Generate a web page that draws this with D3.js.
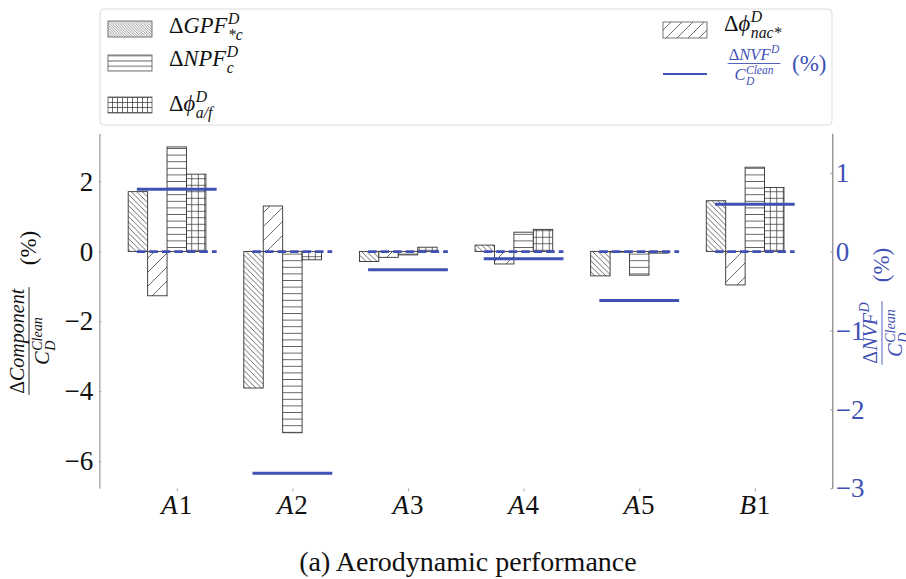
<!DOCTYPE html>
<html>
<head>
<meta charset="utf-8">
<script src="https://cdn.jsdelivr.net/npm/d3@7"></script>
<style>
  html, body { margin: 0; padding: 0; background: #fff; }
  svg { display: block; }
  text { font-family: "Liberation Serif", "DejaVu Serif", serif; }
</style>
</head>
<body>
<svg id="chart" width="906" height="579"></svg>
<script>
// Configurations on the x axis
const categories = ['A1', 'A2', 'A3', 'A4', 'A5', 'B1'];

// Component changes, % of clean drag (left axis)
const gpf   = [1.71, -3.91, -0.29, 0.18, -0.70, 1.45];   // ΔGPF*c
const nac   = [-1.27, 1.30, -0.17, -0.36, -0.02, -0.96]; // Δφ nac*
const npf   = [2.99, -5.19, -0.10, 0.55, -0.68, 2.41];   // ΔNPF c
const phiAF = [2.21, -0.24, 0.12, 0.63, -0.05, 1.83];    // Δφ a/f

// Net vehicle force change, % of clean drag (right axis)
const nvf = [0.79, -2.81, -0.23, -0.09, -0.62, 0.60];

// Axis ticks and limits
const leftTicks = [-6, -4, -2, 0, 2];
const rightTicks = [-3, -2, -1, 0, 1];
const leftDomain = [-6.78, 3.38];
const rightDomain = [-3, 1.5];

const BLUE = '#3f51b5';
const INK = '#333';
const svg = d3.select('#chart');

const plot = { left: 99.3, right: 832.3, top: 133.3, bottom: 488.3 };

const x = d3.scalePoint().domain(categories).range([plot.left, plot.right]).padding(0.67);
const step = x.step();
const bw = step * 0.168;
const lineHalf = step * 0.345;

const yL = d3.scaleLinear().domain(leftDomain).range([plot.bottom, plot.top]);
const yR = d3.scaleLinear().domain(rightDomain).range([plot.bottom, plot.top]);

// ---------- hatch patterns ----------
const defs = svg.append('defs');
function pattern(id, s, d, sw, col) {
  const p = defs.append('pattern').attr('id', id)
    .attr('patternUnits', 'userSpaceOnUse').attr('width', s).attr('height', s);
  p.append('rect').attr('width', s).attr('height', s).attr('fill', '#fff');
  p.append('path').attr('d', d).attr('stroke', col || '#3a3a3a')
    .attr('stroke-width', sw).attr('fill', 'none');
}
function bslash(s) { return `M-1,-1L${s+1},${s+1}M${s-1},-1L${s+1},1M-1,${s-1}L1,${s+1}`; }
function fslash(s) { return `M-1,${s+1}L${s+1},-1M-1,1L1,-1M${s-1},${s+1}L${s+1},${s-1}`; }
function hline(s) { return `M0,${s/2}H${s}`; }
function grid(s) { return `M0,${s/2}H${s}M${s/2},0V${s}`; }

pattern('p-gpf', 5.5, bslash(5.5), 0.75);
pattern('p-nac', 14, fslash(14), 0.75);
pattern('p-npf', 6.6, hline(6.6), 0.75);
pattern('p-phi', 6.5, grid(6.5), 0.75);
pattern('l-gpf', 2.6, bslash(2.6), 0.6, '#555');
pattern('l-nac', 11, fslash(11), 0.75);
pattern('l-npf', 5.3, hline(5.3), 0.75);
pattern('l-phi', 5, grid(5), 0.75);

// ---------- math-like text helper ----------
function mathText(parent, px, py, items, size, color, anchor, supRaise) {
  const g = parent.append('g').attr('fill', color);
  const raise = supRaise == null ? 0.42 : supRaise;
  let cx = 0;
  items.forEach(it => {
    if (it.t) {
      const t = g.append('text').attr('x', cx).attr('y', 0)
        .style('font-size', size + 'px')
        .style('font-style', it.i ? 'italic' : 'normal').text(it.t);
      cx += t.node().getComputedTextLength() + (it.i ? size * 0.03 : 0);
    }
    let w = 0;
    const ss = size * 0.7;
    if (it.sup) {
      const s = g.append('text').attr('x', cx).attr('y', -size * raise)
        .style('font-size', ss + 'px').style('font-style', 'italic').text(it.sup);
      w = Math.max(w, s.node().getComputedTextLength());
    }
    if (it.sub) {
      const s = g.append('text').attr('x', cx).attr('y', size * 0.3)
        .style('font-size', ss + 'px').style('font-style', 'italic').text(it.sub);
      w = Math.max(w, s.node().getComputedTextLength());
    }
    cx += w;
  });
  const dx = anchor === 'middle' ? cx / 2 : anchor === 'end' ? cx : 0;
  g.attr('transform', `translate(${px - dx},${py})`);
  return { g, width: cx };
}

function fraction(parent, cx, ly, num, den, size, color) {
  const g = parent.append('g');
  const n = mathText(g, cx, ly - size * 0.24, num, size, color, 'middle');
  const d = mathText(g, cx, ly + size * 0.98, den, size, color, 'middle', 0.34);
  const w = Math.max(n.width, d.width) + 2;
  g.append('line').attr('x1', cx - w / 2).attr('x2', cx + w / 2)
    .attr('y1', ly).attr('y2', ly).attr('stroke', color).attr('stroke-width', 0.9);
  return w;
}

// ---------- bars ----------
const series = [
  { key: 'gpf', values: gpf, fill: 'url(#p-gpf)' },
  { key: 'nac', values: nac, fill: 'url(#p-nac)' },
  { key: 'npf', values: npf, fill: 'url(#p-npf)' },
  { key: 'phi', values: phiAF, fill: 'url(#p-phi)' }
];

const barLayer = svg.append('g');
series.forEach((s, k) => {
  barLayer.selectAll(null)
    .data(s.values.map((v, i) => ({ c: categories[i], v })))
    .join('rect')
    .attr('x', d => x(d.c) + (k - 2.5) * bw)
    .attr('width', bw)
    .attr('y', d => yL(Math.max(d.v, 0)))
    .attr('height', d => Math.abs(yL(d.v) - yL(0)))
    .attr('fill', s.fill)
    .attr('stroke', INK).attr('stroke-width', 0.9);
});

// ---------- right-axis lines ----------
const lineLayer = svg.append('g');
lineLayer.selectAll(null).data(categories).join('line')
  .attr('x1', c => x(c) - lineHalf).attr('x2', c => x(c) + lineHalf)
  .attr('y1', yR(0)).attr('y2', yR(0))
  .attr('stroke', BLUE).attr('stroke-width', 2.6)
  .attr('stroke-dasharray', '8.5,4');
lineLayer.selectAll(null).data(nvf.map((v, i) => ({ c: categories[i], v }))).join('line')
  .attr('x1', d => x(d.c) - lineHalf).attr('x2', d => x(d.c) + lineHalf)
  .attr('y1', d => yR(d.v)).attr('y2', d => yR(d.v))
  .attr('stroke', BLUE).attr('stroke-width', 3);

// ---------- axes ----------
const fmt = d3.format('d');
const axL = svg.append('g').attr('transform', `translate(${plot.left},0)`)
  .call(d3.axisLeft(yL).tickValues(leftTicks).tickFormat(fmt)
    .tickSizeInner(-2).tickSizeOuter(0).tickPadding(6));
axL.select('.domain').attr('stroke', '#b3b3b3').attr('stroke-width', 1.6);
axL.selectAll('.tick line').attr('stroke', '#999');
axL.selectAll('.tick text').style('font-size', '27px').attr('fill', '#111')
  .style('font-family', '"Liberation Serif", "DejaVu Serif", serif');

const axR = svg.append('g').attr('transform', `translate(${plot.right},0)`)
  .call(d3.axisRight(yR).tickValues(rightTicks).tickFormat(fmt)
    .tickSizeInner(-2).tickSizeOuter(0).tickPadding(3.5));
axR.select('.domain').attr('stroke', '#808080').attr('stroke-width', 1.2);
axR.selectAll('.tick line').attr('stroke', '#999');
axR.selectAll('.tick text').style('font-size', '27px').attr('fill', BLUE)
  .style('font-family', '"Liberation Serif", "DejaVu Serif", serif');

const axX = svg.append('g').attr('transform', `translate(0,${plot.bottom})`)
  .call(d3.axisBottom(x).tickSizeInner(3).tickSizeOuter(0).tickFormat(() => ''));
axX.select('.domain').remove();
axX.selectAll('.tick line').attr('stroke', '#aaa');
categories.forEach(c => {
  mathText(svg, x(c), 514, [{ t: c[0], i: true }, { t: c.slice(1) }], 27, '#111', 'middle');
});

// ---------- axis titles ----------
const tl = svg.append('g').attr('transform', 'translate(29,313) rotate(-90)');
fraction(tl, -28, 0,
  [{ t: 'Δ' }, { t: 'Component', i: true }],
  [{ t: 'C', i: true, sup: 'Clean', sub: 'D' }], 20, '#111');
mathText(tl, 65, 7, [{ t: '(%)' }], 23, '#111', 'middle');

const tr = svg.append('g').attr('transform', 'translate(882,313) rotate(-90)');
fraction(tr, -20, 0,
  [{ t: 'Δ' }, { t: 'NVF', i: true, sup: 'D' }],
  [{ t: 'C', i: true, sup: 'Clean', sub: 'D' }], 20, BLUE);
mathText(tr, 48, 7, [{ t: '(%)' }], 23, BLUE, 'middle');

// ---------- legend ----------
const lg = svg.append('g');
lg.append('rect').attr('x', 100).attr('y', 9).attr('width', 732).attr('height', 116)
  .attr('rx', 4).attr('fill', '#fff').attr('stroke', '#dcdcdc').attr('stroke-width', 1);

const legendRows = [
  { px: 108, py: 21, fill: 'url(#l-gpf)', tx: 169, ty: 33,
    items: [{ t: 'Δ' }, { t: 'GPF', i: true, sup: 'D', sub: '*c' }] },
  { px: 108, py: 55, fill: 'url(#l-npf)', tx: 169, ty: 66,
    items: [{ t: 'Δ' }, { t: 'NPF', i: true, sup: 'D', sub: 'c' }] },
  { px: 108, py: 97, fill: 'url(#l-phi)', tx: 169, ty: 111,
    items: [{ t: 'Δ' }, { t: 'ϕ', i: true, sup: 'D', sub: 'a/f' }] },
  { px: 663, py: 22, fill: 'url(#l-nac)', tx: 724, ty: 31,
    items: [{ t: 'Δ' }, { t: 'ϕ', i: true, sup: 'D', sub: 'nac*' }] }
];
legendRows.forEach(r => {
  lg.append('rect').attr('x', r.px).attr('y', r.py).attr('width', 44).attr('height', 16)
    .attr('fill', r.fill).attr('stroke', '#555').attr('stroke-width', 0.8);
  mathText(lg, r.tx, r.ty, r.items, 22.5, '#111', 'start');
});
lg.append('line').attr('x1', 663).attr('x2', 707).attr('y1', 74).attr('y2', 74)
  .attr('stroke', BLUE).attr('stroke-width', 2.2);
fraction(lg, 754, 63.5,
  [{ t: 'Δ' }, { t: 'NVF', i: true, sup: 'D' }],
  [{ t: 'C', i: true, sup: 'Clean', sub: 'D' }], 16.5, BLUE);
mathText(lg, 792, 71, [{ t: '(%)' }], 23, BLUE, 'start');

// ---------- caption ----------
svg.append('text').attr('x', 468).attr('y', 571).attr('text-anchor', 'middle')
  .style('font-size', '28px').attr('fill', '#111')
  .text('(a) Aerodynamic performance');
</script>
</body>
</html>
